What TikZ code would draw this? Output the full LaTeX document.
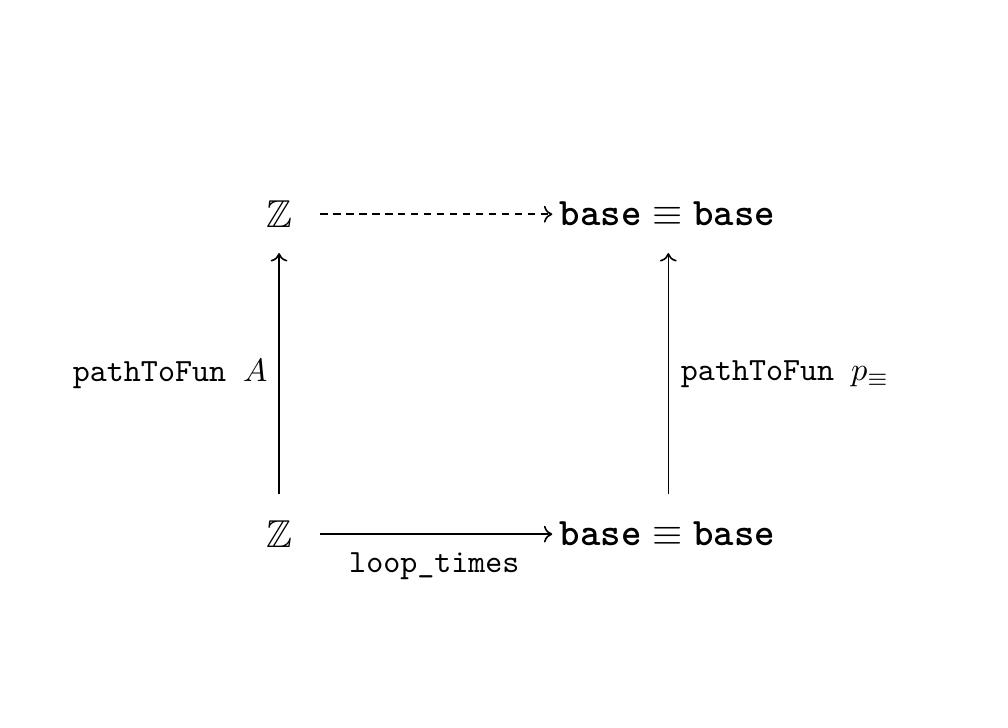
\documentclass[tikz,border=0pt]{standalone}
\usepackage{amssymb}
\usetikzlibrary{arrows.meta}
\begin{document}
\begin{tikzpicture}[x=1pt,y=1pt,
  obj/.style={inner sep=0pt, font=\fontsize{12}{14}\selectfont},
  lbl/.style={inner sep=0pt, font=\fontsize{10}{12}\selectfont},
  arr/.style={-{Computer Modern Rightarrow[length=2.6pt,width=5.2pt]}, line width=0.5pt},
  darr/.style={arr, dash pattern=on 2.3pt off 1.7pt}]
\useasboundingbox (0,0) rectangle (311,224.4);
\node[obj] (zt) at (86.1,158.3) {$\mathbb{Z}$};
\node[obj] (zb) at (86.1,59.6) {$\mathbb{Z}$};
\node[obj] (bt) at (205.9,158.3) {$\texttt{\bfseries base}\equiv\texttt{\bfseries base}$};
\node[obj] (bb) at (205.9,59.6) {$\texttt{\bfseries base}\equiv\texttt{\bfseries base}$};
\coordinate (zbn) at (86.1,71.9);
\coordinate (ztn) at (86.1,146.3);
\coordinate (bbn) at (206.2,71.9);
\coordinate (btn) at (206.2,146.3);
\coordinate (ztr) at (98.8,158.3);
\coordinate (btl) at (170.4,158.3);
\coordinate (zbr) at (98.8,59.6);
\coordinate (bbl) at (170.4,59.6);
\draw[arr] (zbn) -- (ztn);
\draw[arr] (bbn) -- (btn);
\draw[darr] (ztr) -- (btl);
\draw[arr] (zbr) -- (bbl);
\node[lbl, anchor=east] (la) at (82.7,109) {\texttt{pathToFun\ }$A$};
\node[lbl, anchor=west] (lp) at (209.9,109) {\texttt{pathToFun\ }$p_{\equiv}$};
\node[lbl] (lt) at (134,49.7) {\texttt{loop\_times}};
\end{tikzpicture}
\end{document}
